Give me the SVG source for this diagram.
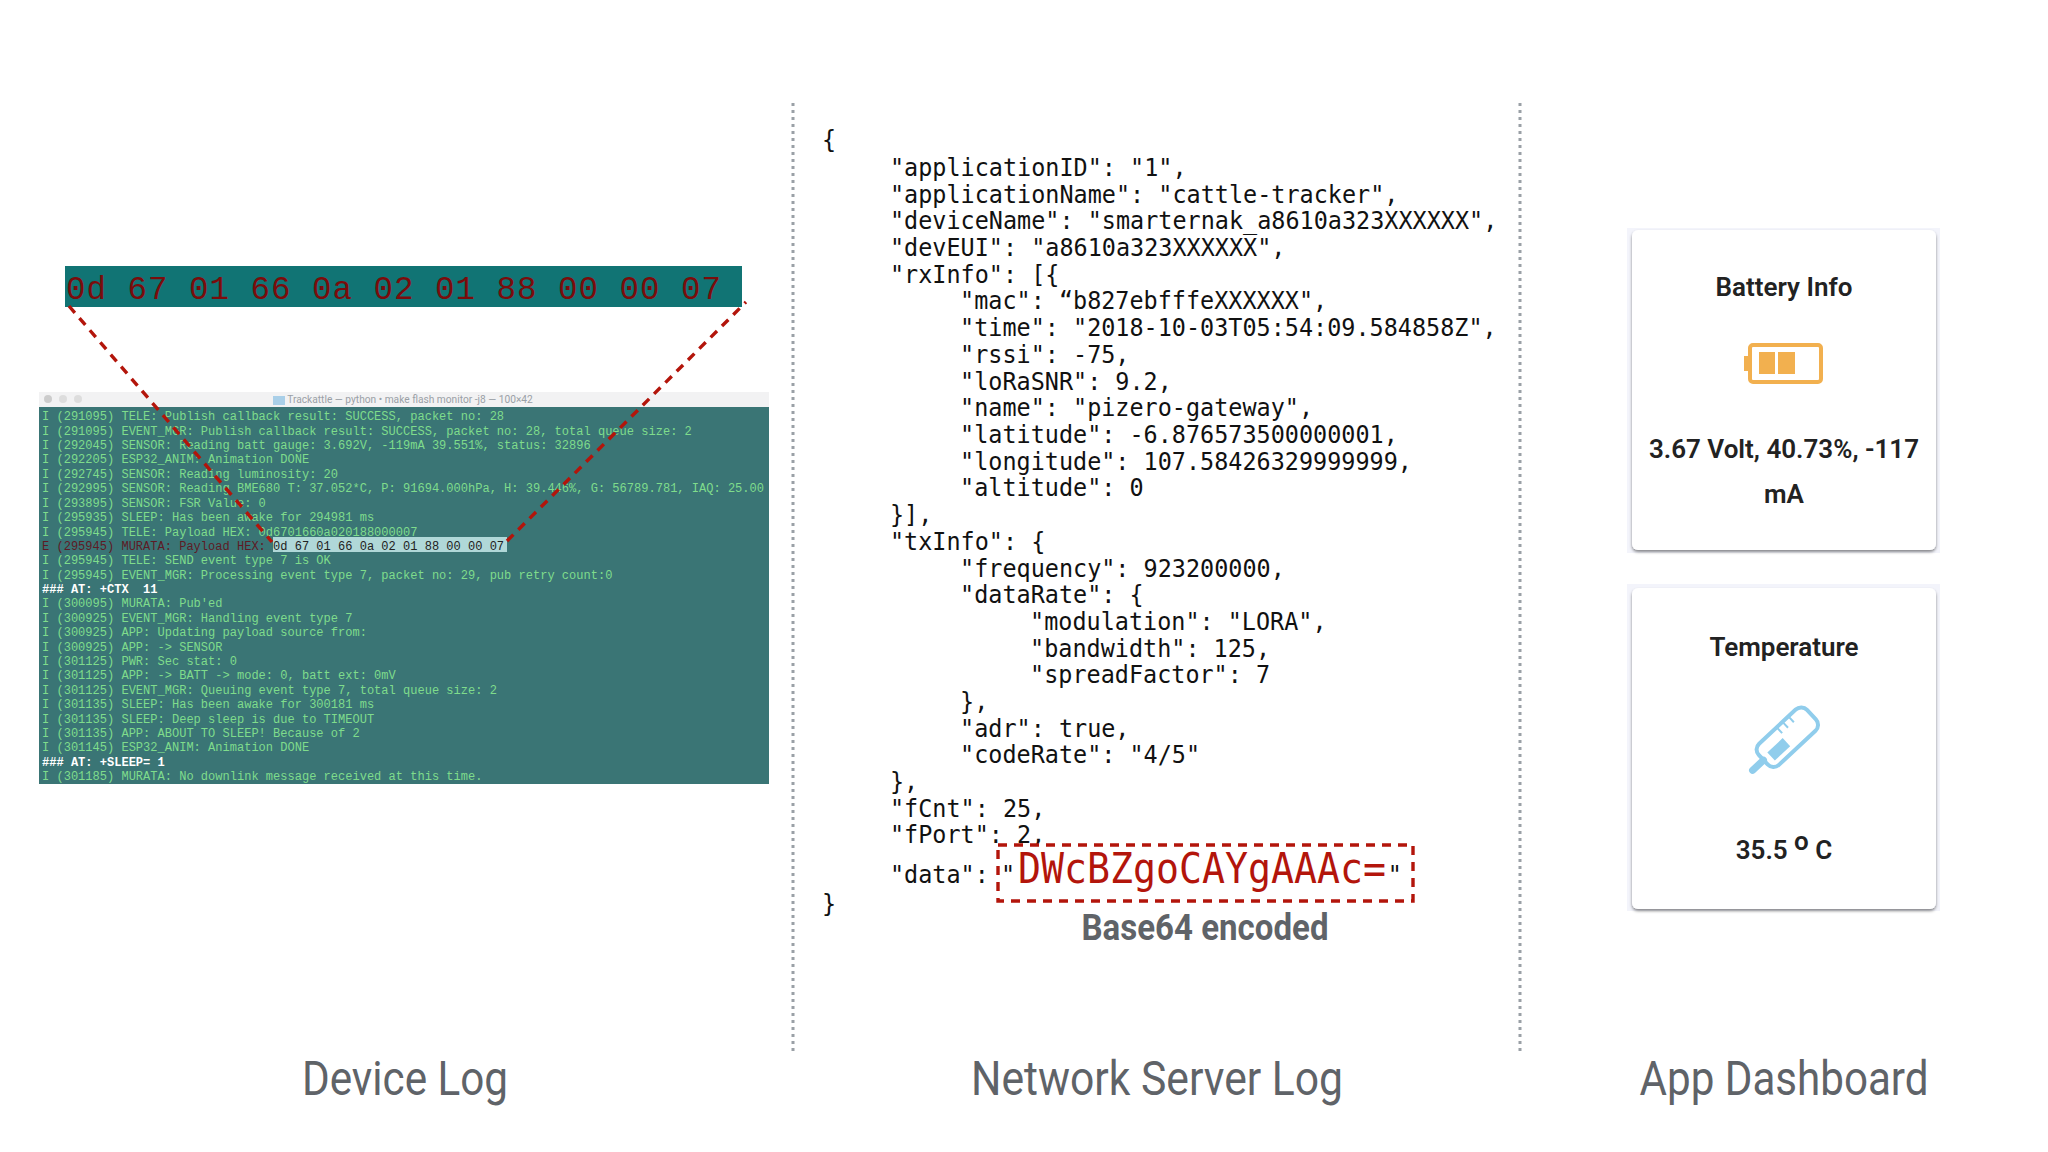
<svg xmlns="http://www.w3.org/2000/svg" width="2048" height="1152" viewBox="0 0 2048 1152">
<style>
.cap{font-family:Roboto,"Liberation Sans",sans-serif;font-size:48px;fill:#5f6368;text-anchor:middle}
.j{font-family:"DejaVu Sans Mono",monospace;font-size:25.5px;fill:#111;white-space:pre}
.l{font-family:"Liberation Mono",monospace;font-size:12.04px;fill:#7fdc8c;white-space:pre}
.w{fill:#fff;font-weight:700}
.t{font-family:Roboto,"Liberation Sans",sans-serif;font-size:26px;font-weight:600;fill:#222;text-anchor:middle}
.halo{fill:#f3f4fb}
.card{fill:#fff}
.div{stroke:#9aa0a6;stroke-width:3;stroke-dasharray:3 4;fill:none}
.red{stroke:#b3150b;stroke-width:3.4;stroke-dasharray:9 7;fill:none}
.bat{fill:#f2b04f}
.th{stroke:#90cdec;fill:none}
</style>
<defs><filter id="sh" x="-5%" y="-5%" width="110%" height="110%"><feDropShadow dx="0" dy="2" stdDeviation="1.5" flood-color="#000" flood-opacity=".45"/></filter></defs>
<rect width="2048" height="1152" fill="#fff"/>
<g id="dividers"><path class="div" d="M793 103V1054"/><path class="div" d="M1520 103V1054"/></g>
<g id="device-log">
<rect x="65" y="266" width="677" height="41" fill="#117474"/>
<text x="66" y="299" font-family="Liberation Mono,monospace" font-size="32.500" fill="#7a0c0c" textLength="655" style="white-space:pre">0d 67 01 66 0a 02 01 88 00 00 07</text>
<rect x="39" y="392" width="730" height="15" fill="#f2f2f3"/>
<rect x="273" y="396" width="12" height="9" fill="#a9cfe8"/>
<text x="410" y="403" text-anchor="middle" font-family="Roboto,sans-serif" font-size="10.200" fill="#9aa0a6">Trackattle — python • make flash monitor -j8 — 100×42</text>
<circle cx="48" cy="399" r="4" fill="#ccc"/><circle cx="63" cy="399" r="4" fill="#ddd"/><circle cx="78" cy="399" r="4" fill="#ddd"/>
<rect x="39" y="407" width="730" height="377" fill="#3a7575"/>
<rect x="273" y="537" width="234" height="15" fill="#b0d8d8"/>
<g class="l">
<text x="42" y="420">I (291095) TELE: Publish callback result: SUCCESS, packet no: 28</text>
<text x="42" y="434.500">I (291095) EVENT_MGR: Publish callback result: SUCCESS, packet no: 28, total queue size: 2</text>
<text x="42" y="449">I (292045) SENSOR: Reading batt gauge: 3.692V, -119mA 39.551%, status: 32896</text>
<text x="42" y="463.400">I (292205) ESP32_ANIM: Animation DONE</text>
<text x="42" y="477.800">I (292745) SENSOR: Reading luminosity: 20</text>
<text x="42" y="492.200">I (292995) SENSOR: Reading BME680 T: 37.052*C, P: 91694.000hPa, H: 39.446%, G: 56789.781, IAQ: 25.00</text>
<text x="42" y="506.600">I (293895) SENSOR: FSR Value: 0</text>
<text x="42" y="521">I (295935) SLEEP: Has been awake for 294981 ms</text>
<text x="42" y="535.500">I (295945) TELE: Payload HEX: 0d6701660a020188000007</text>
<text x="42" y="549.500" style="fill:#5e1a25">E (295945) MURATA: Payload HEX: <tspan style="fill:#222">0d 67 01 66 0a 02 01 88 00 00 07</tspan></text>
<text x="42" y="564">I (295945) TELE: SEND event type 7 is OK</text>
<text x="42" y="578.500">I (295945) EVENT_MGR: Processing event type 7, packet no: 29, pub retry count:0</text>
<text x="42" y="593" class="l w">### AT: +CTX  11</text>
<text x="42" y="607">I (300095) MURATA: Pub'ed</text>
<text x="42" y="621.500">I (300925) EVENT_MGR: Handling event type 7</text>
<text x="42" y="636">I (300925) APP: Updating payload source from:</text>
<text x="42" y="650.500">I (300925) APP: -&gt; SENSOR</text>
<text x="42" y="665">I (301125) PWR: Sec stat: 0</text>
<text x="42" y="679">I (301125) APP: -&gt; BATT -&gt; mode: 0, batt ext: 0mV</text>
<text x="42" y="693.500">I (301125) EVENT_MGR: Queuing event type 7, total queue size: 2</text>
<text x="42" y="708">I (301135) SLEEP: Has been awake for 300181 ms</text>
<text x="42" y="722.500">I (301135) SLEEP: Deep sleep is due to TIMEOUT</text>
<text x="42" y="737">I (301135) APP: ABOUT TO SLEEP! Because of 2</text>
<text x="42" y="751">I (301145) ESP32_ANIM: Animation DONE</text>
<text x="42" y="765.500" class="l w">### AT: +SLEEP= 1</text>
<text x="42" y="780">I (301185) MURATA: No downlink message received at this time.</text>
</g>
</g>
<g id="connectors"><path class="red" d="M69 306L272 542"/><path class="red" d="M507 541L746 302"/></g>
<g id="network-log">
<g transform="scale(.92 1)">
<text class="j" x="893.500" y="148">{</text>
<text class="j" x="967.400" y="176">"applicationID": "1",</text>
<text class="j" x="967.400" y="203">"applicationName": "cattle-tracker",</text>
<text class="j" x="967.400" y="229.500">"deviceName": "smarternak_a8610a323XXXXXX",</text>
<text class="j" x="967.400" y="256">"devEUI": "a8610a323XXXXXX",</text>
<text class="j" x="967.400" y="283">"rxInfo": [{</text>
<text class="j" x="1043.500" y="309.500">"mac": “b827ebfffeXXXXXX",</text>
<text class="j" x="1043.500" y="336">"time": "2018-10-03T05:54:09.584858Z",</text>
<text class="j" x="1043.500" y="363">"rssi": -75,</text>
<text class="j" x="1043.500" y="390">"loRaSNR": 9.2,</text>
<text class="j" x="1043.500" y="416.500">"name": "pizero-gateway",</text>
<text class="j" x="1043.500" y="443">"latitude": -6.876573500000001,</text>
<text class="j" x="1043.500" y="470">"longitude": 107.58426329999999,</text>
<text class="j" x="1043.500" y="496.500">"altitude": 0</text>
<text class="j" x="967.400" y="523">}],</text>
<text class="j" x="967.400" y="550">"txInfo": {</text>
<text class="j" x="1043.500" y="577">"frequency": 923200000,</text>
<text class="j" x="1043.500" y="603.500">"dataRate": {</text>
<text class="j" x="1119.600" y="630">"modulation": "LORA",</text>
<text class="j" x="1119.600" y="657">"bandwidth": 125,</text>
<text class="j" x="1119.600" y="683.500">"spreadFactor": 7</text>
<text class="j" x="1043.500" y="710">},</text>
<text class="j" x="1043.500" y="737">"adr": true,</text>
<text class="j" x="1043.500" y="763.500">"codeRate": "4/5"</text>
<text class="j" x="967.400" y="790">},</text>
<text class="j" x="967.400" y="817">"fCnt": 25,</text>
<text class="j" x="967.400" y="843.500">"fPort": 2,</text>
<text class="j" x="967.400" y="883">"data":</text>
<text class="j" x="1088" y="883">"</text>
<text class="j" x="1508.500" y="883">"</text>
<text class="j" x="893.500" y="912">}</text>
</g>
<text x="1018" y="883" font-family="DejaVu Sans Mono,monospace" font-size="42" fill="#b3150b" textLength="368" lengthAdjust="spacingAndGlyphs">DWcBZgoCAYgAAAc=</text>
<rect class="red" x="998" y="845" width="415" height="56"/>
<text x="1205" y="940" text-anchor="middle" font-family="Roboto,sans-serif" font-size="37" font-weight="700" fill="#5f6368" textLength="247" lengthAdjust="spacingAndGlyphs">Base64 encoded</text>
</g>
<g id="battery-card">
<rect class="halo" x="1627" y="228" width="313" height="325"/>
<rect x="1632" y="230" width="304" height="320" rx="6" class="card" filter="url(#sh)"/>
<text class="t" x="1784" y="296">Battery Info</text>
<path class="bat" d="M1750 356h-6v15h6z"/><rect x="1750" y="345" width="71" height="37" rx="3" fill="#fff" stroke="#f2b04f" stroke-width="4"/>
<rect class="bat" x="1759" y="352" width="16" height="22"/><rect class="bat" x="1778" y="352" width="17" height="22"/>
<text class="t" x="1784" y="458">3.67 Volt, 40.73%, -117</text><text class="t" x="1784" y="503">mA</text>
</g>
<g id="temperature-card">
<rect class="halo" x="1627" y="584" width="313" height="327"/>
<rect x="1632" y="588" width="304" height="321" rx="6" class="card" filter="url(#sh)"/>
<text class="t" x="1784" y="656">Temperature</text>
<g transform="translate(-2 3) rotate(-43 1786 738)"><rect class="th" x="1758" y="723" width="66" height="29" rx="8" stroke-width="4"/><path class="th" d="M1758 738h-15" stroke-width="7" stroke-linecap="round"/><rect x="1766" y="735" width="21" height="11" fill="#90cdec"/><path class="th" d="M1790 723v8M1798 723v8M1806 723v8" stroke-width="2"/></g>
<text class="t" x="1784" y="859">35.5 <tspan dy="-9">o</tspan><tspan dy="9"> C</tspan></text>
</g>
<g id="captions">
<text class="cap" x="405" y="1095" textLength="206" lengthAdjust="spacingAndGlyphs">Device Log</text>
<text class="cap" x="1157" y="1095" textLength="372" lengthAdjust="spacingAndGlyphs">Network Server Log</text>
<text class="cap" x="1784" y="1095" textLength="289" lengthAdjust="spacingAndGlyphs">App Dashboard</text>
</g>
</svg>
